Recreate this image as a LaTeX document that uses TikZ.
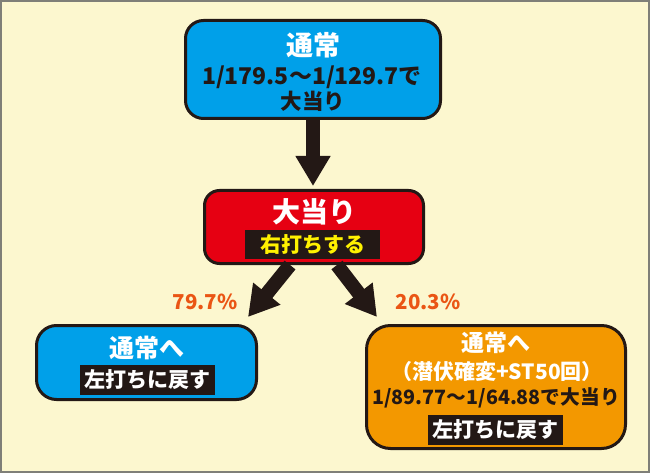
\documentclass[tikz,border=0pt]{standalone}
\usepackage{fontspec}
\setmainfont{Noto Sans CJK JP}
\usetikzlibrary{arrows.meta,calc}
\definecolor{bg}{HTML}{FCF7CF}
\definecolor{ink}{HTML}{231815}
\definecolor{cblue}{HTML}{00A0E9}
\definecolor{cred}{HTML}{E60012}
\definecolor{corange}{HTML}{F39800}
\definecolor{cyellow}{HTML}{FFF100}
\definecolor{pct}{HTML}{EA5514}
\definecolor{framecol}{HTML}{7F7F78}
\tikzset{
  box/.style={draw=ink, line width=3pt, rounded corners=18pt, inner sep=0pt},
  band/.style={fill=ink, inner sep=0pt, minimum width=135pt, minimum height=29pt},
  txt/.style={inner sep=0pt, font=\bfseries\fontsize{#1}{#1}\selectfont},
  bigarrow/.style={draw=ink, line width=14pt, -{Triangle[width=33pt,length=30pt]}},
}
\begin{document}
\begin{tikzpicture}[x=1pt,y=-1pt]
\fill[bg] (0,0) rectangle (650,473);
\useasboundingbox (0,0) rectangle (650,473);
\draw[framecol, line width=2pt] (1,1) rectangle (649,472);

% boxes
\node[box, fill=cblue, minimum width=255pt, minimum height=98pt] (top) at (313,69.5) {};
\node[box, fill=cred, rounded corners=15pt, minimum width=219pt, minimum height=73pt] (red) at (314,227) {};
\node[box, fill=cblue, rounded corners=20pt, minimum width=220pt, minimum height=74pt] (left) at (146.5,362.5) {};
\node[box, fill=corange, rounded corners=24pt, minimum width=259pt, minimum height=123pt] (right) at (496,387) {};

% texts top
\node[txt=27, text=white] (t1) at (313,45) {通常};
\node[txt=23, text=ink] (t2) at (312,77) {1/179.5～1/129.7で};
\node[txt=21.5, text=ink] (t3) at (313,101) {大当り};

% red
\node[txt=28, text=white] (r1) at (314,212) {大当り};
\node[band] (r2) at (312.5,244.5) {};
\node[txt=21, text=cyellow] (r2t) at (r2) {右打ちする};

% left
\node[txt=25, text=white] (l1) at (147,348) {通常へ};
\node[band, minimum height=30pt] (l2) at (147.5,380) {};
\node[txt=21, text=white] (l2t) at (l2) {左打ちに戻す};

% right
\node[txt=23, text=white] (g1) at (496,343) {通常へ};
\node[txt=21, text=white] (g2) at (497,372) {（潜伏確変+ST50回）};
\node[txt=19.7, text=ink] (g3) at (496,398) {1/89.77～1/64.88で大当り};
\node[band, minimum height=30pt] (g4) at (495.5,430) {};
\node[txt=21, text=white] (g4t) at (g4) {左打ちに戻す};

% percentages
\node[txt=20.5, text=pct] (p1) at (205,302) {79.7\%};
\node[txt=20.5, text=pct] (p2) at (428,302) {20.3\%};

% arrows
\coordinate (a1) at (313,186);
\coordinate (a2) at (248,317);
\coordinate (a3) at (377,317);
\draw[bigarrow] (top.south) -- (a1);
\draw[bigarrow] ($(red.south)+(-24,0)$) -- (a2);
\draw[bigarrow] ($(red.south)+(23,0)$) -- (a3);
\end{tikzpicture}
\end{document}
